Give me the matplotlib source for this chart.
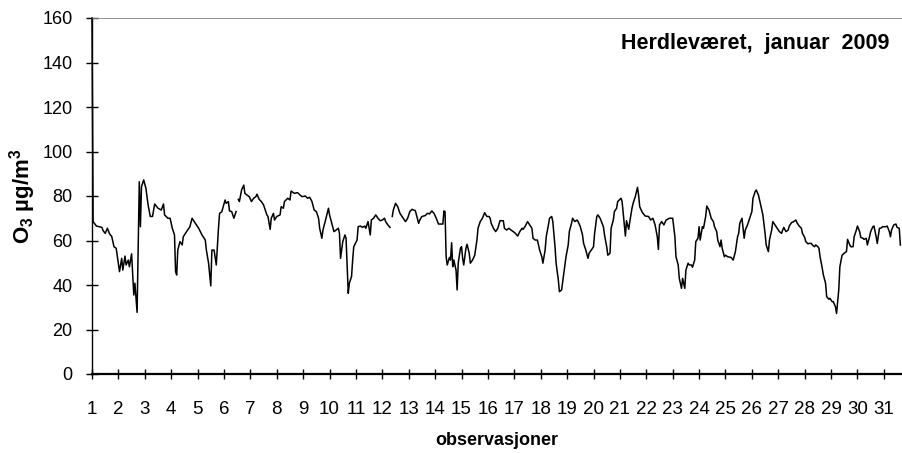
import numpy as np
import matplotlib
matplotlib.use("Agg")
import matplotlib.pyplot as plt

plt.rcParams["font.family"] = ["Liberation Sans", "DejaVu Sans"]
plt.rcParams["mathtext.default"] = "regular"

nan = np.nan

# hourly O3 readings, January 2009 (hour index from 1 Jan 00:00)
hour = [0, 1, 4, 9, 10, 12, 14, 16, 18, 20, 22, 25, 27, 28, 30, 31, 33, 34, 36, 38, 39, 41, 43, 44, 45, 47, 49, 51,
        53, 55, 57, 60, 63, 65, 66, 69, 71, 73, 75, 76, 77, 78, 80, 82, 83, 86, 89, 91, 94, 97, 100, 103, 104, 106,
        108, 109, 111, 113, 115, 116, 118, 121,
        122, 124, 125, 127, 128, 129, 131, 132, 133, 134, 136, 138, 139, 141, 143, 145, 147, 149, 150, 152, 154, 156,
        159, 160, 162, 163, 165, 166, 168, 171, 172, 174, 175, 178, 180, 181, 184, 187, 189, 191, 194, 196, 198, 200,
        202, 204, 206, 207, 209, 210, 212, 215, 216, 218, 220, 222, 224, 225, 226, 228, 230, 231, 232, 233, 234, 236,
        237, 238, 241, 242, 244,
        246, 248, 249, 251, 252, 253, 254, 256, 258, 260, 262, 264, 266, 267, 269, 271, 272, 273, 274, 276, 278, 280,
        281, 283, 285, 287, 289, 291, 294, 295, 297, 298, 300, 303, 305, 307, 309, 311, 313, 315, 317, 319, 320, 321,
        322, 323, 325, 326, 327, 328, 329, 331, 332, 333, 335, 336, 337, 338, 340, 341, 343, 344, 346, 348, 350, 351,
        353, 355, 357, 359, 361,
        362, 363, 365, 367, 369, 371, 374, 375, 377, 379, 381, 383, 385, 387, 389, 391, 392, 394, 396, 398, 400, 401,
        403, 405, 407, 409, 410, 412, 413, 415, 416, 418, 419, 421, 422, 424, 425, 427, 428, 430, 431, 433, 434, 436,
        437, 439, 441, 442, 444, 446, 447, 449, 451, 452, 454, 456, 457, 459, 460, 462, 465, 466, 468, 469, 471, 472,
        474, 475, 477, 478, 481, 482,
        485, 486, 488, 489, 491, 492, 494, 496, 497, 498, 500, 501, 503, 506, 508, 510, 512, 514, 515, 516, 518, 520,
        522, 525, 527, 528, 530, 531, 533, 534, 536, 537, 539, 540, 542, 543, 545, 546, 548, 549, 551, 552, 553, 555,
        556, 558, 559, 561, 563, 565, 566, 568, 569, 571, 572, 573, 575, 576, 578, 581, 583, 585, 587, 588, 589, 591,
        593, 594, 596, 598, 600, 601, 603, 604, 606,
        607, 610, 612, 613, 615, 616, 618, 619, 621, 622, 624, 625, 627, 628, 629, 631, 633, 634, 636, 638, 640, 641,
        643, 645, 646, 648, 649, 651, 652, 654, 655, 657, 658, 660, 661, 662, 664, 665, 667, 668, 670, 671, 673, 674,
        676, 677, 679, 680, 682, 684, 686, 687, 689, 690, 692, 693, 695, 696, 698, 699, 701, 702, 704, 705, 707, 708,
        710, 711, 713, 714, 716, 717, 719, 722, 723, 725, 726, 727, 729, 731, 732, 734, 735]

o3 = [160, 68.5, 66.5, 65.9, 64.5, 63.2, 65.5, 63, 61.7, 57.2, 56.5, 46, 52, 46.7, 53, 49, 51.2, 48.2, 54, 35.5, 40.8,
      27.7, 86.4, 66.2, 84.2, 87.2, 83.5, 76, 70.8, 70.8, 76.4, 74.5, 73.7, 76.4, 71.5, 70, 70, 65.5, 62.5, 46, 44.5,
      55.7, 59.5, 58, 61.7, 64, 66.2, 70, 67.7, 65.5, 62.5, 60.2, 55.7, 49.8, 39.6, 55.7, 55.7, 49, 65.5, 72.2, 72.9,
      78.2,
      76.7, 77.5, 73.3, 73, 71.5, 70, 73, nan, 78.5, 77.5, 82.7, 84.9, 81.2, 80.4, 79.7, 77.5, 79, 79.7, 80.8, 78.5,
      77.5, 76, 71.5, 70.8, 65, 70, 72.2, 69.2, 70.8, 71.5, 75.2, 74.5, 77.5, 79, 78.2, 82.2, 81.2, 81.5, 80.5, 79.7,
      80, 79, 79.4, 77.5, 73.7, 73, 70, 65.5, 61, 64.7, 68.5, 74.5, 71.5, 67.7, 64, 64.7, 65.5, 63.2, 52, 59.5, 62.5,
      61, 48.2, 36.3, 40.8, 43.8, 51.2, 57.2, 60.2, 66.2, 66.5,
      65.9, 66.5, 65.5, 68.5, 65.5, 62.5, 69.2, 70, 71.5, 70, 68.9, 69.2, 70, 68.5, 67, 65.9, nan, 70.8, 73.7, 76.7,
      75.2, 72.2, 71.5, 70, 68.5, 70, 73, 74, 73.4, 71.5, 67.7, 69.2, 70.8, 71.2, 72.2, 72, 73.3, 72.2, 70, 67.4, 67.4,
      67.4, 73.3, 73, 52.7, 49, 52.4, 51.2, 59, 48.2, 51.2, 46.7, 37.8, 49.8, 56.5, 57.2, 52, 49, 56.5, 58.3, 54.3,
      49.8, 51.2, 53.4, 60.2, 65.5, 68.5, 70, 72.5, 70.8, 70.8,
      70, 67.7, 65.5, 64, 65.5, 68.9, 68.9, 65.5, 64.7, 65.5, 64.7, 64, 63.2, 62, 64, 65.5, 65, 66.5, 68.5, 67, 65.5,
      61, 60.2, 60.2, 55.7, 52.7, 49.8, 55.7, 61.7, 67, 70, 70.8, 68.5, 57.2, 49.8, 42.3, 37, 37.8, 41.5, 49, 52.7, 58,
      64, 67.7, 70, 68.5, 69.2, 68.5, 66.2, 62.5, 58.7, 55.7, 52, 54.3, 55.7, 57.2, 63.2, 70.8, 71.5, 70, 66.2, 62.5,
      57.2, 53.4, 54.3, 65.5, 69.2, 73, 74.5, 77.5, 79, 77.5,
      62, 68.9, 65, 68.5, 74.5, 76.7, 79.7, 83.9, 80.4, 75.2, 73, 72.2, 71, 70.8, 69.2, 70, 67, 61.7, 56, 67, 68.5, 67,
      69.2, 70, 70, 70, 61.7, 52.7, 49, 43, 38.5, 43, 38.5, 46.7, 49.8, 49, 49, 48, 51.2, 59.5, 61, 66.2, 60.2, 66.2,
      65.5, 70.8, 75.5, 73.7, 70, 68.5, 66.2, 64, 60.2, 57.2, 60.2, 56.5, 52.7, 53.4, 52.7, 52.4, 51.2, 55, 61.7, 63.2,
      67.7, 70, 61, 64.7, 67, 70, 73, 79, 82, 82.7, 80.4,
      78.2, 71.5, 63.2, 58, 55, 60.2, 64.7, 68.5, 67, 66.2, 64.7, 64, 63.2, 64.7, 65.9, 64, 64.7, 66.5, 68, 68.5, 69.2,
      68, 66.5, 65.5, 63.2, 61.4, 59.5, 58.5, 58.7, 58.7, 58, 57.2, 58, 57.2, 56.5, 52.7, 47.5, 44.5, 40.8, 34.8, 33.6,
      34, 32.5, 32.5, 30.2, 27.2, 37.8, 48.2, 53.4, 54.3, 55, 60.5, 58, 57.2, 57.2, 61.7, 64.7, 66.5, 64, 61.4, 61,
      60.5, 61, 58, 61.7, 64, 66.2, 66.5, 61.7, 58.7, 65.5, 65.5, 66.2, 66.2, 66.5, 64, 61.7, 64.7, 67, 67.4, 65.9,
      65.5, 58]

days = list(range(1, 32))
day_ticks = [24 * (d - 1) for d in days]
y_ticks = [0, 20, 40, 60, 80, 100, 120, 140, 160]

fig = plt.figure(figsize=(9.02, 4.53), dpi=100)
ax = fig.add_axes([92 / 902, 79 / 453, 810 / 902, 356 / 453])

ax.plot(hour, o3, color="black", linewidth=1.1, clip_on=False)

ax.set_xlim(0, 736.5)
ax.set_ylim(0, 160)
ax.set_xticks(day_ticks)
ax.set_xticklabels([str(d) for d in days])
ax.set_yticks(y_ticks)

ax.tick_params(axis="x", direction="inout", length=7, width=1.0, pad=16, labelsize=13.5)
ax.tick_params(axis="y", direction="inout", length=8, width=1.0, pad=10, labelsize=13)

ax.spines["right"].set_visible(False)
ax.spines["top"].set_color("#808080")
ax.spines["top"].set_linewidth(0.6)
ax.spines["left"].set_linewidth(1.0)
ax.spines["bottom"].set_linewidth(1.6)

ax.set_ylabel("O$_3$ µg/m$^3$", fontsize=16, fontweight="bold", labelpad=3)
ax.set_xlabel("observasjoner", fontsize=13, fontweight="bold", labelpad=10)

ax.text(0.985, 0.927, "Herdleværet,  januar  2009", transform=ax.transAxes,
        ha="right", va="center", fontsize=15.5, fontweight="bold")

fig.savefig("out.png", dpi=100)
